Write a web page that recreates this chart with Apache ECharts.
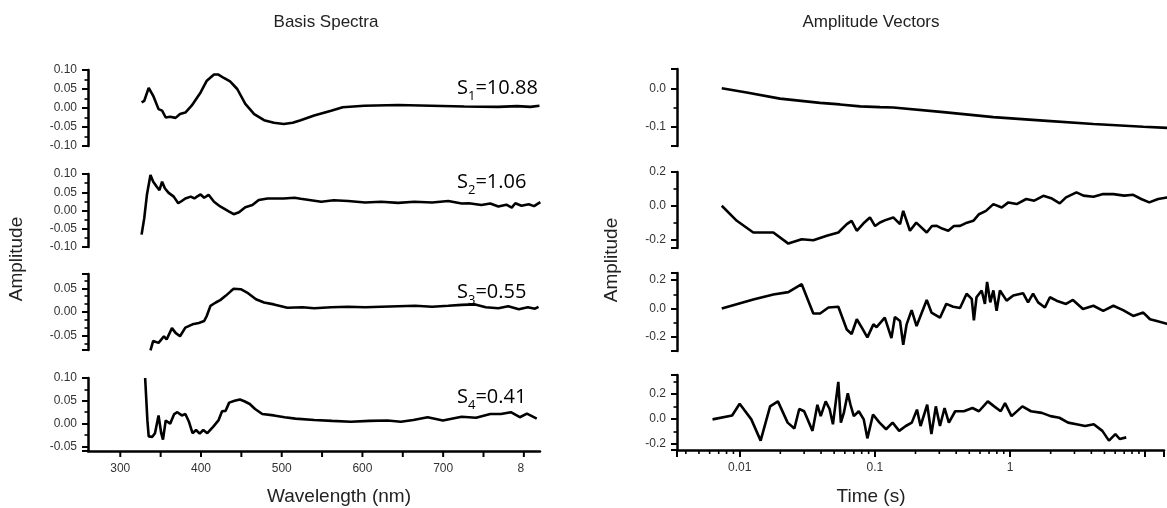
<!DOCTYPE html>
<html><head><meta charset="utf-8">
<script src="https://cdn.jsdelivr.net/npm/echarts@6/dist/echarts.min.js"></script>
<style>html,body{margin:0;padding:0;background:#fff}#c{width:1167px;height:508px}</style>
</head><body><div id="c"></div>
<script>
// ---------- Basis spectra (wavelength nm, amplitude) ----------
const s1Wl  = [326.4,329.7,335.2,340.8,347.4,351.8,356.3,361.8,368.5,374.0,380.6,388.4,399.5,407.2,416.1,421.6,428.3,436.0,444.9,454.9,465.9,478.1,490.3,502.5,513.6,523.5,540.2,561.2,575.6,602.2,644.3,685.2,726.2,768.3,791.6,808.2,819.3];
const s1Amp = [0.015,0.019,0.053,0.032,-0.003,-0.007,-0.025,-0.023,-0.026,-0.016,-0.012,0.006,0.041,0.072,0.088,0.088,0.079,0.070,0.050,0.011,-0.016,-0.032,-0.039,-0.042,-0.039,-0.032,-0.020,-0.007,0.002,0.006,0.008,0.006,0.004,0.003,0.005,0.003,0.006];

const s2Wl  = [326.4,329.7,333.0,337.4,340.8,345.2,348.5,351.8,355.2,359.6,366.2,371.8,376.2,380.6,387.3,391.7,395.0,399.5,403.9,409.4,416.1,423.8,434.9,440.5,447.1,454.9,463.7,471.5,482.5,502.5,515.8,523.5,549.0,564.5,582.2,603.3,623.2,644.3,664.2,686.4,706.3,723.0,731.8,747.4,758.4,768.4,778.3,785.0,789.4,797.1,806.0,812.6,820.4];
const s2Amp = [-0.066,-0.021,0.043,0.097,0.079,0.065,0.056,0.079,0.061,0.049,0.038,0.020,0.026,0.033,0.038,0.033,0.038,0.044,0.035,0.043,0.024,0.011,-0.003,-0.010,-0.005,0.009,0.015,0.029,0.033,0.033,0.035,0.032,0.024,0.028,0.026,0.022,0.024,0.021,0.024,0.022,0.026,0.019,0.020,0.015,0.019,0.011,0.016,0.008,0.020,0.013,0.017,0.012,0.023];

const s3Wl  = [337.4,340.8,347.4,354.1,357.4,364.0,368.5,374.0,380.6,389.5,397.3,403.9,407.2,411.7,418.3,423.8,430.5,437.1,440.5,449.3,457.1,468.1,478.1,490.3,507.0,525.7,540.2,561.2,582.2,603.3,623.2,644.3,665.3,686.4,706.3,723.0,739.6,752.8,768.4,780.6,793.8,804.9,813.8,818.2];
const s3Amp = [-0.081,-0.061,-0.065,-0.051,-0.058,-0.034,-0.044,-0.051,-0.033,-0.026,-0.023,-0.019,-0.008,0.013,0.020,0.025,0.034,0.044,0.049,0.048,0.041,0.027,0.020,0.016,0.009,0.010,0.008,0.010,0.011,0.010,0.011,0.012,0.013,0.011,0.013,0.015,0.016,0.010,0.008,0.012,0.006,0.010,0.007,0.011];

const s4Wl  = [330.8,333.6,335.2,339.7,343.0,347.4,350.7,352.9,356.3,361.8,366.8,370.7,376.2,380.6,385.1,389.5,393.9,398.4,402.8,407.8,415.0,421.6,426.1,430.5,434.9,441.6,448.2,453.7,460.4,467.0,475.9,490.3,503.6,516.9,540.2,562.3,585.6,608.8,631.0,647.6,663.1,680.8,699.7,722.9,740.7,758.4,771.7,783.9,795.0,803.8,816.0];
const s4Amp = [0.100,0.007,-0.028,-0.029,-0.021,0.018,-0.021,-0.035,0.007,0.000,0.021,0.025,0.018,0.021,0.004,-0.021,-0.014,-0.022,-0.014,-0.021,-0.007,0.007,0.027,0.028,0.046,0.050,0.053,0.049,0.043,0.032,0.021,0.018,0.014,0.011,0.008,0.006,0.004,0.006,0.007,0.004,0.008,0.014,0.007,0.015,0.013,0.021,0.021,0.025,0.014,0.022,0.011];

const singularValues = ['10.88','1.06','0.55','0.41'];

// ---------- Amplitude vectors (time s, amplitude) ----------
const v1Time = [0.00734,0.01119,0.01966,0.03879,0.05428,0.07638,0.1069,0.1339,0.3129,0.7292,1.700,3.967,9.233,13.89,15.94];
const v1Amp  = [0,-0.011,-0.027,-0.038,-0.042,-0.047,-0.049,-0.050,-0.062,-0.075,-0.084,-0.093,-0.100,-0.103,-0.104];

const v2Time = [0.00734,0.00947,0.01252,0.01758,0.02266,0.02842,0.03458,0.04342,0.05283,0.06094,0.06616,0.07221,0.08058,0.09022,0.0984,0.1069,0.1172,0.1339,0.1501,0.1585,0.1776,0.1976,0.2360,0.2578,0.2797,0.3062,0.3398,0.3738,0.4148,0.4658,0.5196,0.5719,0.6438,0.7292,0.8400,0.9399,1.082,1.273,1.457,1.700,1.941,2.243,2.495,2.977,3.351,3.967,4.682,5.565,6.677,7.784,8.908,10.21,11.87,13.79,15.94];
const v2Amp  = [0.0,-0.089,-0.158,-0.158,-0.224,-0.198,-0.204,-0.178,-0.158,-0.109,-0.089,-0.148,-0.105,-0.069,-0.12,-0.099,-0.085,-0.069,-0.109,-0.030,-0.148,-0.1,-0.158,-0.12,-0.119,-0.135,-0.148,-0.12,-0.119,-0.1,-0.089,-0.05,-0.03,0.010,-0.01,0.02,0.010,0.04,0.03,0.059,0.045,0.014,0.05,0.079,0.06,0.053,0.07,0.069,0.06,0.065,0.04,0.020,0.04,0.049,0.045];

const v3Time = [0.00734,0.01252,0.01758,0.02266,0.02842,0.03458,0.03879,0.04468,0.05283,0.06094,0.06616,0.07221,0.07883,0.08636,0.09568,0.1010,0.1160,0.1298,0.1376,0.1501,0.1585,0.1679,0.1827,0.1987,0.2360,0.2557,0.2953,0.3286,0.3693,0.4148,0.4634,0.5054,0.5243,0.5480,0.5981,0.6316,0.6558,0.6921,0.7292,0.7704,0.8149,0.9124,1.021,1.206,1.312,1.428,1.555,1.745,1.900,2.125,2.495,2.805,3.322,3.967,4.682,5.565,6.553,7.784,9.233,10.34,11.60,13.79,15.94];
const v3Amp  = [0.0,0.063,0.099,0.115,0.171,-0.036,-0.036,0.007,0.012,-0.148,-0.180,-0.076,-0.137,-0.204,-0.112,-0.132,-0.065,-0.209,-0.060,-0.088,-0.256,-0.112,-0.012,-0.124,0.060,-0.029,-0.065,0.032,0.012,0.003,0.104,0.068,-0.084,0.079,0.127,0.032,0.187,0.043,0.127,-0.017,0.127,0.055,0.091,0.108,0.043,0.104,0.043,0.007,0.079,0.055,0.032,0.060,-0.004,0.019,-0.017,0.019,-0.012,-0.053,-0.029,-0.076,-0.088,-0.108,-0.112];

const v4Time = [0.0063,0.0088,0.0100,0.0122,0.0143,0.0168,0.0192,0.02264,0.0254,0.0276,0.0300,0.0346,0.0376,0.0398,0.0433,0.0463,0.0490,0.0537,0.0561,0.0590,0.0631,0.0661,0.0699,0.0761,0.0828,0.0881,0.0970,0.1083,0.1212,0.1354,0.1515,0.1695,0.1878,0.2051,0.2180,0.2441,0.2624,0.2828,0.3034,0.3281,0.3531,0.3933,0.4556,0.5277,0.5897,0.6853,0.7641,0.8543,0.9192,1.027,1.235,1.430,1.720,1.994,2.320,2.692,3.106,3.596,4.167,4.825,5.398,6.024,6.483,7.246];
const v4Amp  = [-0.005,0.026,0.120,-0.005,-0.175,0.099,0.139,-0.031,-0.078,0.078,0.060,-0.097,0.112,0.021,0.139,0.078,-0.044,0.295,-0.031,0.047,0.204,0.112,0.021,0.060,-0.005,-0.157,0.034,-0.031,-0.084,-0.031,-0.097,-0.058,-0.031,0.073,-0.058,0.112,-0.123,0.099,-0.058,0.086,-0.031,0.060,0.060,0.086,0.060,0.139,0.099,0.060,0.125,0.021,0.099,0.060,0.047,0.021,0.008,-0.031,-0.044,-0.058,-0.044,-0.097,-0.175,-0.123,-0.162,-0.149];

// ---------- ticks / ranges ----------
const wlLabelTicks = [300,400,500,600,700,800];
const wlTickMarks  = [300,350,400,450,500,550,600,650,700,750,800];
const timeLabelTicks = [0.01,0.1,1];
const timeMinorTicks = [0.004,0.005,0.006,0.007,0.008,0.009,0.02,0.03,0.04,0.05,0.06,0.07,0.08,0.09,0.2,0.3,0.4,0.5,0.6,0.7,0.8,0.9,2,3,4,5,6,7,8,9];
const wlRange = [260, 820];
const timeRange = [0.00344, 13.79];
const leftRanges  = [[-0.10,0.10],[-0.10,0.10],[-0.08,0.08],[-0.06,0.10]];
const rightRanges = [[-0.15,0.05],[-0.25,0.20],[-0.30,0.25],[-0.25,0.35]];
const leftLabelStep = 0.05, rightLabelSteps = [0.1,0.2,0.2,0.2];

// ---------- layout ----------
const FONT = 'Liberation Sans, Arial, sans-serif';
const leftBoxes  = [[70,146],[174,247],[274,350],[378,451]];
const rightBoxes = [[69,146],[172,248],[273,351],[375,450]];
const LX = 88, LW = 452, RX = 677, RW = 490;

function stepFmt(step, dec){
  return function(v){
    const k = v/step;
    if (Math.abs(k - Math.round(k)) > 1e-6) return '';
    const r = Math.round(k)*step;
    return (Math.abs(r) < 1e-9 ? 0 : r).toFixed(dec);
  };
}
const zip = (a,b) => a.map((x,i)=>[x,b[i]]);

const grids = [], xAxes = [], yAxes = [], series = [];
const axisLine = {show:true, onZero:false, lineStyle:{color:'#000', width:2.5}};
const lab = {fontFamily:FONT, fontSize:12, color:'#333'};

leftBoxes.forEach((b,i)=>{
  grids.push({left:LX, width:LW, top:b[0], height:b[1]-b[0]});
  xAxes.push({type:'value', gridIndex:i, min:wlRange[0], max:wlRange[1], interval:10, show:i===3,
    axisLine: axisLine, splitLine:{show:false}, axisTick:{show:false},
    axisLabel:Object.assign({}, lab, {margin:12, showMinLabel:false, showMaxLabel:false,
      formatter: v => wlLabelTicks.indexOf(v) < 0 ? '' : (v===800 ? '{e|8}' : String(v)),
      rich:{e:Object.assign({}, lab, {padding:[0,6,0,0]})}})
  });
  yAxes.push({type:'value', gridIndex:i, min:leftRanges[i][0], max:leftRanges[i][1], splitNumber: (i<2)?4:3,
    axisLine: axisLine, splitLine:{show:false},
    axisTick:{show:true, length:6, lineStyle:{color:'#000', width:2}},
    minorTick:{show:true, splitNumber: i===2?3:2, length:3.5, lineStyle:{color:'#000', width:1.6}},
    axisLabel:Object.assign({formatter: stepFmt(leftLabelStep,2), margin:11}, lab)
  });
});
rightBoxes.forEach((b,i)=>{
  const gi = 4+i;
  grids.push({left:RX, width:RW, top:b[0], height:b[1]-b[0]});
  xAxes.push({type:'log', logBase:10, gridIndex:gi, min:timeRange[0], max:timeRange[1], show:i===3,
    axisLine: axisLine, splitLine:{show:false},
    axisTick:{show:true, length:7, lineStyle:{color:'#000', width:2}},
    axisLabel:Object.assign({}, lab, {margin:12,
      formatter: v => {
        const hit = timeLabelTicks.find(t => Math.abs(Math.log10(v) - Math.log10(t)) < 1e-6);
        return hit === undefined ? '' : String(hit);
      }})
  });
  yAxes.push({type:'value', gridIndex:gi, min:rightRanges[i][0], max:rightRanges[i][1], splitNumber: i<2?2:3,
    axisLine: axisLine, splitLine:{show:false},
    axisTick:{show:true, length:6, lineStyle:{color:'#000', width:2}},
    minorTick:{show:true, splitNumber:2, length:3.5, lineStyle:{color:'#000', width:1.6}},
    axisLabel:Object.assign({formatter: stepFmt(rightLabelSteps[i],1), margin:11}, lab)
  });
});

const line = (data, idx) => ({type:'line', xAxisIndex:idx, yAxisIndex:idx, data:data, showSymbol:false, symbol:'none',
  lineStyle:{color:'#000', width:2.6}, clip:false, silent:true, z:5});
series.push(line(zip(s1Wl,s1Amp),0), line(zip(s2Wl,s2Amp),1), line(zip(s3Wl,s3Amp),2), line(zip(s4Wl,s4Amp),3));
series.push(line(zip(v1Time,v1Amp),4), line(zip(v2Time,v2Amp),5), line(zip(v3Time,v3Amp),6), line(zip(v4Time,v4Amp),7));

// tick marks drawn through the axes' own scales
function tickSeries(idx, values, yVal, len, width){
  return {type:'custom', xAxisIndex:idx, yAxisIndex:idx, silent:true, clip:false, z:4,
    data: values.map(v => [v, yVal]),
    renderItem: (params, api) => {
      const p = api.coord([api.value(0), api.value(1)]);
      return {type:'line', shape:{x1:p[0], y1:p[1], x2:p[0], y2:p[1]+len}, style:{stroke:'#000', lineWidth:width}};
    }};
}
series.push(tickSeries(3, wlTickMarks, leftRanges[3][0], 6, 2));
series.push(tickSeries(7, timeMinorTicks, rightRanges[3][0], 4, 1.6));

const titleStyle = {fontFamily:FONT, fontSize:17, fill:'#222', align:'center', verticalAlign:'middle'};
const nameStyle  = {fontFamily:FONT, fontSize:19, fill:'#222', align:'center', verticalAlign:'middle'};
const svRich = {a:{fontFamily:'Open Sans, sans-serif', fontSize:20, color:'#222', lineHeight:26, verticalAlign:'bottom', padding:[0,0,3,0]},
                b:{fontFamily:'Open Sans, sans-serif', fontSize:13, color:'#222', lineHeight:26, verticalAlign:'bottom', padding:[0,0,-2,0]}};
const svY = [88,182,292,397];
const graphics = [
  {type:'text', x:326, y:22, style:Object.assign({text:'Basis Spectra'}, titleStyle)},
  {type:'text', x:871, y:22, style:Object.assign({text:'Amplitude Vectors'}, titleStyle)},
  {type:'text', x:339, y:497, style:Object.assign({text:'Wavelength (nm)'}, nameStyle)},
  {type:'text', x:871, y:497, style:Object.assign({text:'Time (s)'}, nameStyle)},
  {type:'text', x:17, y:259, rotation:Math.PI/2, style:Object.assign({text:'Amplitude'}, nameStyle)},
  {type:'text', x:612, y:260, rotation:Math.PI/2, style:Object.assign({text:'Amplitude'}, nameStyle)}
];
singularValues.forEach((s,i)=>{
  graphics.push({type:'text', x:457, y:svY[i], style:{text:'{a|S}{b|'+(i+1)+'}{a|='+s+'}', rich:svRich, align:'left', verticalAlign:'middle'}});
});

const chart = echarts.init(document.getElementById('c'), null, {renderer:'canvas'});
chart.setOption({animation:false, backgroundColor:'#fff', grid:grids, xAxis:xAxes, yAxis:yAxes, series:series, graphic:graphics});
</script></body></html>
